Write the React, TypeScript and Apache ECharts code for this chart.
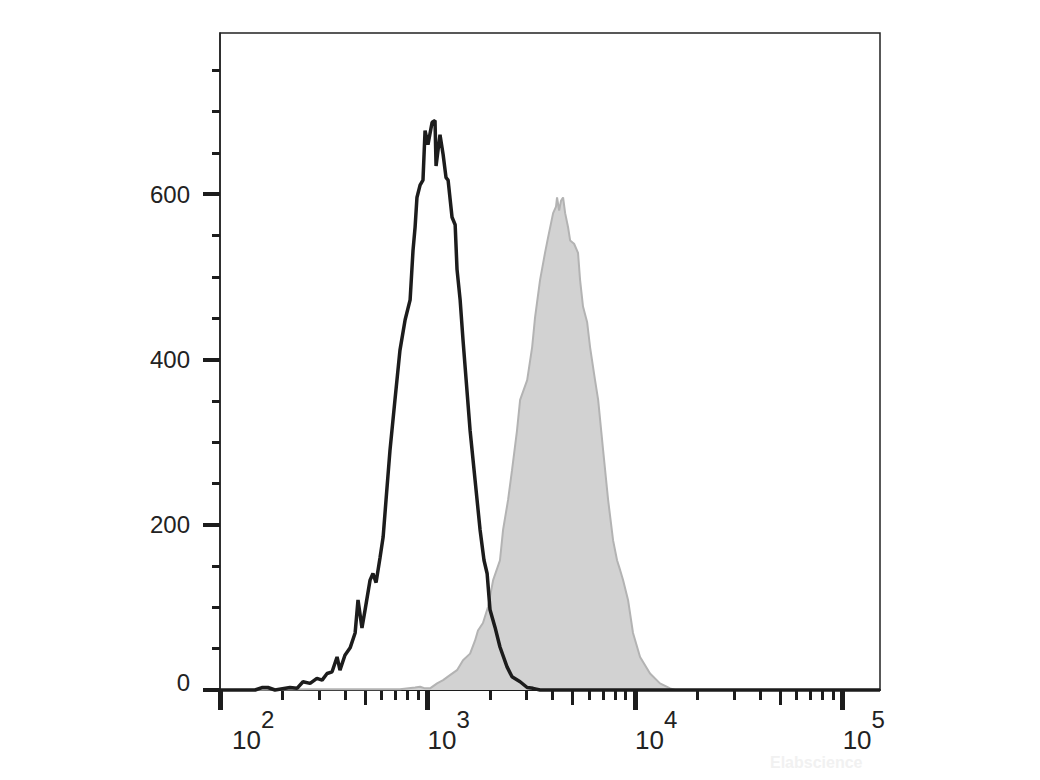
import React, { useEffect, useRef } from "react";
import * as echarts from "echarts";

// x positions are log10(fluorescence intensity)
const blackLog = [
  1.913, 2.096, 2.169, 2.202, 2.231, 2.265, 2.337, 2.371, 2.4, 2.434,
  2.467, 2.492, 2.516, 2.54, 2.564, 2.578, 2.602, 2.627, 2.651, 2.665,
  2.684, 2.699, 2.723, 2.737, 2.752, 2.771, 2.786, 2.8, 2.819, 2.843,
  2.867, 2.892, 2.916, 2.93, 2.94, 2.949, 2.964, 2.978, 2.988, 3.002,
  3.022, 3.036, 3.041, 3.06, 3.075, 3.089, 3.099, 3.118, 3.133, 3.142,
  3.157, 3.171, 3.186, 3.205, 3.229, 3.253, 3.272, 3.287, 3.301, 3.325,
  3.349, 3.383, 3.407, 3.446, 3.48, 3.508, 3.542, 5.18,
];
const blackCount = [
  0, 0, 0, 3, 3, 0, 3, 2, 10, 8,
  14, 12, 20, 22, 40, 24, 42, 51, 69, 109,
  75, 97, 133, 141, 130, 160, 185, 230, 290, 351,
  411, 448, 472, 532, 560, 596, 611, 617, 677, 660,
  687, 689, 634, 672, 648, 620, 617, 572, 563, 509,
  472, 423, 375, 314, 254, 194, 157, 141, 97, 76,
  52, 28, 16, 10, 3, 2, 0, 0,
];

const grayLog = [
  2.0, 2.434, 2.867, 2.94, 2.964, 2.988, 3.012, 3.046, 3.075, 3.108,
  3.142, 3.171, 3.205, 3.229, 3.243, 3.267, 3.292, 3.316, 3.349, 3.364,
  3.388, 3.407, 3.431, 3.446, 3.48, 3.504, 3.518, 3.542, 3.566, 3.581,
  3.605, 3.619, 3.624, 3.634, 3.643, 3.653, 3.663, 3.677, 3.687, 3.706,
  3.725, 3.735, 3.749, 3.769, 3.783, 3.807, 3.822, 3.846, 3.87, 3.894,
  3.913, 3.928, 3.942, 3.966, 3.99, 4.024, 4.072, 4.12, 4.169, 4.193,
];
const grayCount = [
  0, 1, 1, 3, 4, 2, 2, 8, 12, 18,
  24, 36, 44, 60, 72, 81, 101, 133, 157, 194,
  230, 266, 314, 351, 375, 415, 451, 496, 529, 548,
  577, 585, 596, 580, 592, 596, 577, 560, 544, 540,
  529, 496, 464, 445, 415, 375, 351, 290, 230, 181,
  157, 145, 133, 109, 69, 40, 20, 8, 2, 0,
];

const xDecades = [2, 3, 4, 5];
const xHalfMultiplier = [5];
const xMinorMultipliers = [2, 3, 4, 6, 7, 8, 9];
const yMajorTicks = [0, 200, 400, 600];
const yMinorTicks = [50, 100, 150, 250, 300, 350, 450, 500, 550, 650, 700, 750];

const X_MIN = 2;
const X_MAX = 5.18;
const Y_MAX = 795;

const FONT = "'Liberation Sans', Arial, sans-serif";

export default function App() {
  const ref = useRef<HTMLDivElement>(null);

  useEffect(() => {
    if (!ref.current) return;
    const chart = echarts.init(ref.current, undefined, { renderer: "svg" });

    const decadesLow = [2, 3, 4];
    const halfTicks: number[] = [];
    const minorTicks: number[] = [];
    decadesLow.forEach((d) => {
      xHalfMultiplier.forEach((m) => halfTicks.push(d + Math.log10(m)));
      xMinorMultipliers.forEach((m) => minorTicks.push(d + Math.log10(m)));
    });

    const baseX = {
      type: "value" as const,
      min: X_MIN,
      max: X_MAX,
      position: "bottom" as const,
      gridIndex: 0,
      splitLine: { show: false },
    };

    const option: any = {
      animation: false,
      backgroundColor: "#ffffff",
      grid: {
        left: 220,
        right: 160,
        top: 33,
        bottom: 90,
        show: true,
        borderColor: "#222",
        borderWidth: 1.5,
        backgroundColor: "transparent",
      },
      xAxis: [
        {
          ...baseX,
          axisLine: { show: true, onZero: false, lineStyle: { color: "#1c1c1c", width: 2 } },
          axisTick: {
            show: true,
            length: 20,
            lineStyle: { color: "#1c1c1c", width: 5 },
            customValues: xDecades,
          },
          axisLabel: {
            show: true,
            customValues: xDecades,
            margin: 17,
            align: "left",
            color: "#222",
            fontFamily: FONT,
            formatter: (v: number) =>
              v === 2 ? `{p|}{b|10}{s|${v}}` : `{b|10}{s|${v}}`,
            rich: {
              p: { width: 12 },
              b: { fontSize: 26, fontFamily: FONT, color: "#222", lineHeight: 66 },
              s: { fontSize: 24, fontFamily: FONT, color: "#222", verticalAlign: "top" },
            },
          },
        },
        {
          ...baseX,
          axisLine: { show: false, onZero: false },
          axisTick: {
            show: true,
            length: 15,
            lineStyle: { color: "#1c1c1c", width: 3 },
            customValues: halfTicks,
          },
          axisLabel: { show: false },
        },
        {
          ...baseX,
          axisLine: { show: false, onZero: false },
          axisTick: {
            show: true,
            length: 10,
            lineStyle: { color: "#1c1c1c", width: 3 },
            customValues: minorTicks,
          },
          axisLabel: { show: false },
        },
      ],
      yAxis: [
        {
          type: "value",
          min: 0,
          max: Y_MAX,
          position: "left",
          splitLine: { show: false },
          axisLine: { show: true, onZero: false, lineStyle: { color: "#222", width: 1.5 } },
          axisTick: {
            show: true,
            length: 17,
            lineStyle: { color: "#1c1c1c", width: 4 },
            customValues: yMajorTicks,
          },
          axisLabel: {
            show: true,
            customValues: yMajorTicks,
            margin: 30,
            fontSize: 24,
            fontFamily: FONT,
            color: "#222",
            formatter: (v: number) => (v === 0 ? "{z|0}" : String(v)),
            rich: {
              z: { fontSize: 24, fontFamily: FONT, color: "#222", padding: [0, 0, 16, 0] },
            },
          },
        },
        {
          type: "value",
          min: 0,
          max: Y_MAX,
          position: "left",
          splitLine: { show: false },
          axisLine: { show: false, onZero: false },
          axisTick: {
            show: true,
            length: 8,
            lineStyle: { color: "#1c1c1c", width: 3 },
            customValues: yMinorTicks,
          },
          axisLabel: { show: false },
        },
      ],
      series: [
        {
          type: "line",
          name: "stained",
          xAxisIndex: 0,
          yAxisIndex: 0,
          data: grayLog.map((x, i) => [x, grayCount[i]]),
          symbol: "none",
          smooth: false,
          lineStyle: { color: "#b3b3b3", width: 2 },
          areaStyle: { color: "#d2d2d2", opacity: 1, origin: "start" },
          z: 2,
        },
        {
          type: "line",
          name: "control",
          xAxisIndex: 0,
          yAxisIndex: 0,
          data: blackLog.map((x, i) => [x, blackCount[i]]),
          symbol: "none",
          smooth: false,
          clip: false,
          lineStyle: { color: "#1c1c1c", width: 3.5 },
          z: 3,
        },
      ],
      graphic: [
        {
          type: "text",
          left: 770,
          top: 754,
          style: {
            text: "Elabscience",
            fill: "#f1f1f1",
            font: `bold 16px ${FONT}`,
          },
          silent: true,
        },
      ],
    };

    chart.setOption(option);
    return () => chart.dispose();
  }, []);

  return (
    <div
      ref={ref}
      style={{ position: "fixed", left: 0, top: 0, width: 1040, height: 780, background: "#fff" }}
    />
  );
}
